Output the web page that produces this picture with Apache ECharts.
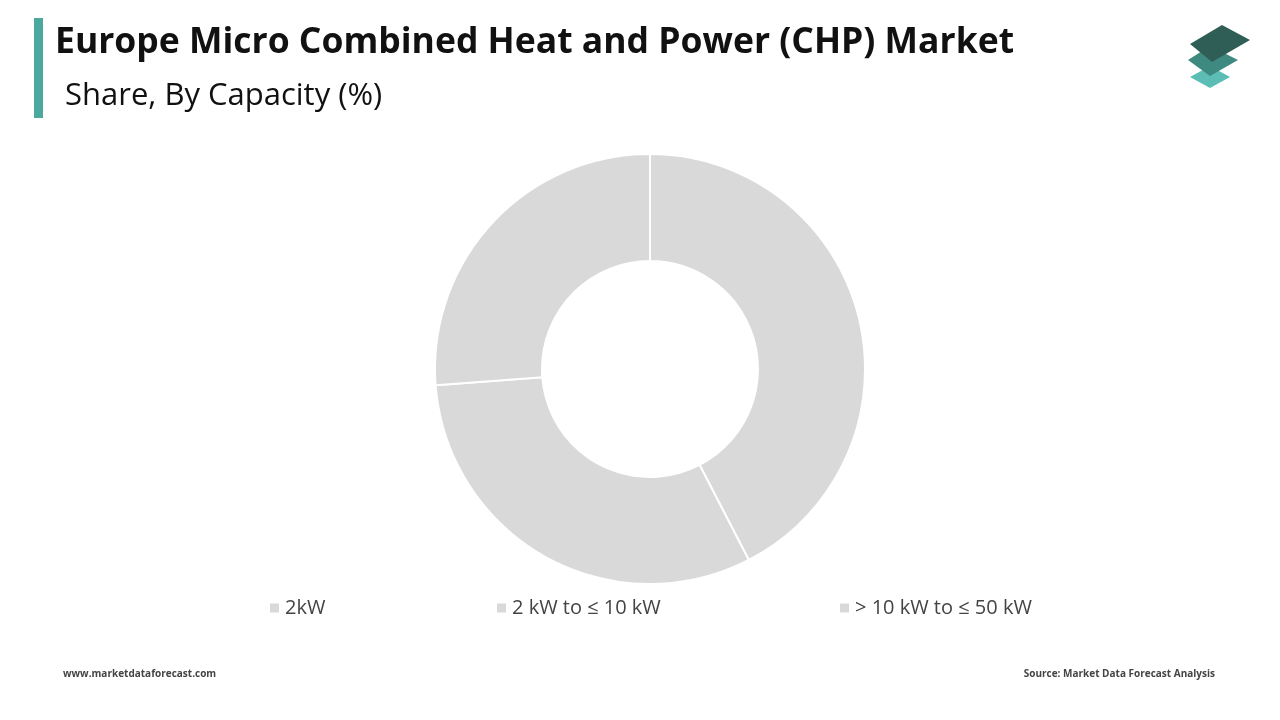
<!DOCTYPE html>
<html><head><meta charset="utf-8">
<script src="https://cdn.jsdelivr.net/npm/echarts@6/dist/echarts.min.js"></script>
<style>html,body{margin:0;padding:0;background:#fff}#c{width:1280px;height:720px}</style>
</head><body><div id="c"></div>
<script>
const categories = ['2kW', '2 kW to ≤ 10 kW', '> 10 kW to ≤ 50 kW'];
const values = [42.4, 31.4, 26.2];
const legendX = [263, 490, 833];

const chart = echarts.init(document.getElementById('c'));
const font = '"Open Sans", "Liberation Sans", sans-serif';
chart.setOption({
  animation: false,
  color: ['#d9d9d9', '#d9d9d9', '#d9d9d9'],
  title: [
    {text: 'Europe Micro Combined Heat and Power (CHP) Market', left: 50, top: 20,
     textStyle: {fontFamily: font, fontSize: 35.5, fontWeight: 'bold', color: '#111'}},
    {text: 'Share, By Capacity (%)', left: 60, top: 76,
     textStyle: {fontFamily: font, fontSize: 31, fontWeight: 'normal', color: '#111'}},
    {text: 'www.marketdataforecast.com', left: 58, top: 664,
     textStyle: {fontFamily: font, fontSize: 10, fontWeight: 'bold', color: '#444'}},
    {text: 'Source: Market Data Forecast Analysis', right: 60, top: 664,
     textStyle: {fontFamily: font, fontSize: 10, fontWeight: 'bold', color: '#444'}}
  ],
  legend: categories.map((c, i) => ({
    data: [c], left: legendX[i], top: 593, itemWidth: 11, itemHeight: 11, icon: 'rect',
    selectedMode: false,
    textStyle: {fontFamily: font, fontSize: 20, color: '#444'}
  })),
  graphic: [
    {type: 'rect', shape: {x: 34, y: 18, width: 9, height: 100}, style: {fill: '#4aa89f'}},
    {type: 'polygon', shape: {points: [[1210,88],[1230,77],[1210,66],[1190,77]]}, style: {fill: '#5bbdb4'}},
    {type: 'polygon', shape: {points: [[1210,76],[1238,60],[1210,46],[1188,60]]}, style: {fill: '#3f8a80'}},
    {type: 'polygon', shape: {points: [[1212,62],[1250,40],[1222,25],[1190,44]]}, style: {fill: '#2f5e57'}}
  ],
  series: [{
    type: 'pie', center: [650, 369], radius: [108, 215], startAngle: 90, clockwise: true,
    label: {show: false}, labelLine: {show: false},
    itemStyle: {borderColor: '#fff', borderWidth: 2},
    data: categories.map((c, i) => ({name: c, value: values[i]}))
  }]
});
</script></body></html>
